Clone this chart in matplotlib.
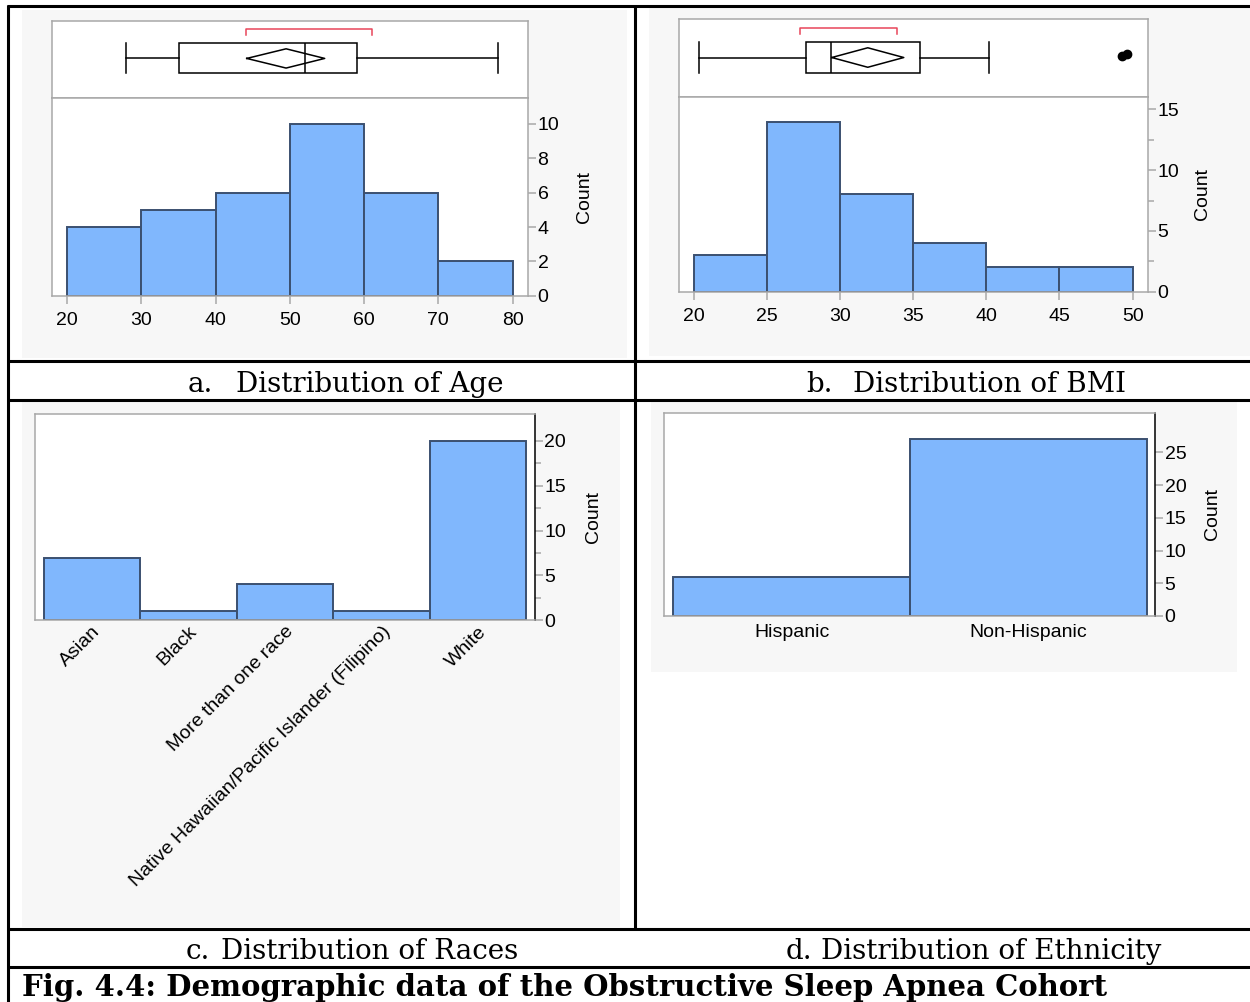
#!/usr/bin/env python3
"""
Demographic summary panels for the OSA cohort: age and BMI histograms with
outlier box plots, plus race and ethnicity counts, laid out as a 2x2 table.
"""

import matplotlib
matplotlib.use("Agg")
import matplotlib.pyplot as plt
import numpy as np

W, H = 1250, 1002

# ── Data ──
age_edges = [20, 30, 40, 50, 60, 70, 80]
age_counts = [4, 5, 6, 10, 6, 2]
age_box = dict(whislo=27.9, q1=35.1, med=52.0, q3=59.0, whishi=78.1)
age_mean = 49.5
age_ci = (44.2, 54.7)
age_shortest_half = (44.1, 61.1)

bmi_edges = [20, 25, 30, 35, 40, 45, 50]
bmi_counts = [3, 14, 8, 4, 2, 2]
bmi_box = dict(whislo=20.4, q1=27.7, med=29.4, q3=35.5, whishi=40.2)
bmi_outliers = [49.3, 49.6]
bmi_mean = 31.9
bmi_ci = (29.44, 34.36)
bmi_shortest_half = (27.3, 33.9)

races = ["Asian", "Black", "More than one race",
         "Native Hawaiian/Pacific Islander (Filipino)", "White"]
race_counts = [7, 1, 4, 1, 20]

ethnicities = ["Hispanic", "Non-Hispanic"]
ethnicity_counts = [6, 27]

# ── Styling ──
PANEL_BG = "#f7f7f7"
FRAME = "#a8a8a8"
BAR_FACE = "#80b7fd"
BAR_EDGE = "#3b5070"
RED = "#e8455a"
SANS = ["Liberation Sans", "DejaVu Sans"]
SERIF = ["DejaVu Serif"]
TICK_FS = 14

plt.rcParams["font.family"] = SANS


def px_rect(x0, y0, x1, y1):
    """Pixel box (top-left origin) -> figure fraction rect."""
    return [x0 / W, 1 - y1 / H, (x1 - x0) / W, (y1 - y0) / H]


def frame(ax, right_color=FRAME):
    for name, sp in ax.spines.items():
        sp.set_color(right_color if name == "right" else FRAME)
        sp.set_linewidth(1.1)


def count_axis(ax, ylim, major, minor=None, label_x=1.12, right_color=FRAME):
    frame(ax, right_color)
    ax.set_ylim(*ylim)
    ax.yaxis.tick_right()
    ax.set_yticks(major)
    if minor is not None:
        ax.set_yticks(minor, minor=True)
    ax.tick_params(axis="y", which="major", direction="out", color=FRAME,
                   length=6, width=1.1, labelsize=TICK_FS, pad=1)
    ax.tick_params(axis="y", which="minor", direction="out", color=FRAME,
                   length=4, width=1.1)
    ax.set_ylabel("Count", fontsize=TICK_FS)
    ax.yaxis.set_label_position("right")
    ax.yaxis.label.set_va("center")
    ax.yaxis.set_label_coords(label_x, 0.5)


def histogram_panel(fig, box_rect, hist_rect, edges, counts, xlim, ylim,
                    yticks, yminor, xticks, box, mean, ci, short_half,
                    label_x, outliers=None):
    # box plot strip on top
    axb = fig.add_axes(box_rect, zorder=2)
    frame(axb)
    axb.set_xlim(*xlim)
    axb.set_ylim(0, 1)
    axb.set_xticks([])
    axb.set_yticks([])
    c, w = 0.51, 0.39
    axb.bxp([box], positions=[c], widths=w, capwidths=w,
            orientation="horizontal", showfliers=False, manage_ticks=False,
            patch_artist=True,
            boxprops=dict(facecolor="white", edgecolor="black", linewidth=1.1),
            whiskerprops=dict(color="black", linewidth=1.1),
            capprops=dict(color="black", linewidth=1.1),
            medianprops=dict(color="black", linewidth=1.1))
    h = 0.125
    axb.plot([ci[0], mean, ci[1], mean, ci[0]], [c, c + h, c, c - h, c],
             color="black", linewidth=1.1)
    axb.plot([short_half[0], short_half[0], short_half[1], short_half[1]],
             [0.81, 0.89, 0.89, 0.81], color=RED, linewidth=1.1)
    if outliers is not None:
        axb.plot(outliers, [c + 0.02, c + 0.05], "o", color="black",
                 markersize=6)

    # histogram below
    ax = fig.add_axes(hist_rect, zorder=2)
    ax.bar(edges[:-1], counts, width=np.diff(edges), align="edge",
           color=BAR_FACE, edgecolor=BAR_EDGE, linewidth=1.4)
    ax.set_xlim(*xlim)
    ax.set_xticks(xticks)
    ax.tick_params(axis="x", direction="out", color=FRAME, length=6,
                   width=1.1, labelsize=TICK_FS, pad=6)
    count_axis(ax, ylim, yticks, yminor, label_x)
    return ax


def category_panel(fig, rect, cats, counts, xlim, ylim, yticks, yminor,
                   label_x, rotate=False):
    ax = fig.add_axes(rect, zorder=2)
    ax.bar(np.arange(len(cats)), counts, width=1.0, color=BAR_FACE,
           edgecolor=BAR_EDGE, linewidth=1.4)
    ax.set_xlim(*xlim)
    ax.set_xticks(np.arange(len(cats)))
    if rotate:
        ax.set_xticklabels(cats, rotation=45, ha="right",
                           rotation_mode="anchor")
        ax.tick_params(axis="x", length=0, labelsize=TICK_FS, pad=2)
    else:
        ax.set_xticklabels(cats)
        ax.tick_params(axis="x", length=0, labelsize=TICK_FS, pad=6)
    count_axis(ax, ylim, yticks, yminor, label_x, right_color="black")
    return ax


fig = plt.figure(figsize=(W / 100, H / 100), dpi=100)

# ── Page layer: panel backgrounds, table rules, captions ──
bg = fig.add_axes([0, 0, 1, 1], zorder=0)
bg.set_xlim(0, W)
bg.set_ylim(H, 0)
bg.axis("off")

for x0, y0, x1, y1 in [(22, 10, 627, 358), (649, 6, 1250, 356),
                       (22, 400, 620, 927), (651, 400, 1237, 672)]:
    bg.add_patch(plt.Rectangle((x0, y0), x1 - x0, y1 - y0,
                               facecolor=PANEL_BG, edgecolor="none"))

rule = dict(color="black", linewidth=2.2, solid_capstyle="butt")
for y in [5.5, 361, 399.5, 929, 967]:
    bg.plot([7, W], [y, y], **rule)
bg.plot([7.5, 7.5], [4.5, H], **rule)
bg.plot([634.5, 634.5], [5.5, 929], **rule)

cap = dict(fontsize=20, family=SERIF, va="baseline")
bg.text(188, 392, "a.", **cap)
bg.text(236, 392, "Distribution of Age", **cap)
bg.text(806, 392, "b.", **cap)
bg.text(853, 392, "Distribution of BMI", **cap)
bg.text(186, 959, "c.", **cap)
bg.text(221, 959, "Distribution of Races", **cap)
bg.text(786, 959, "d.", **cap)
bg.text(821, 959, "Distribution of Ethnicity", **cap)
bg.text(22, 996, "Fig. 4.4: Demographic data of the Obstructive Sleep Apnea Cohort",
        fontsize=21, family=SERIF, fontweight="bold", va="baseline")

# ── a. Age ──
histogram_panel(fig, px_rect(51.8, 20.7, 527.8, 97.7),
                px_rect(51.8, 97.7, 527.8, 295.7),
                age_edges, age_counts, (17.94, 82.06), (0, 11.53),
                [0, 2, 4, 6, 8, 10], None, [20, 30, 40, 50, 60, 70, 80],
                age_box, age_mean, age_ci, age_shortest_half,
                label_x=(585 - 51.8) / 476)

# ── b. BMI ──
histogram_panel(fig, px_rect(679, 19.3, 1148, 97.3),
                px_rect(679, 97.3, 1148, 291.7),
                bmi_edges, bmi_counts, (19.0, 51.05), (0, 16.0),
                [0, 5, 10, 15], [2.5, 7.5, 12.5], [20, 25, 30, 35, 40, 45, 50],
                bmi_box, bmi_mean, bmi_ci, bmi_shortest_half,
                label_x=(1203 - 679) / 469, outliers=bmi_outliers)

# ── c. Races ──
category_panel(fig, px_rect(35.3, 414, 534.7, 620.3), races, race_counts,
               (-0.587, 4.587), (0, 23), [0, 5, 10, 15, 20],
               [2.5, 7.5, 12.5, 17.5], label_x=(593 - 35.3) / 499.4,
               rotate=True)

# ── d. Ethnicity ──
category_panel(fig, px_rect(664, 413, 1155, 616), ethnicities,
               ethnicity_counts, (-0.54, 1.535), (0, 31), [0, 5, 10, 15, 20, 25],
               None, label_x=(1212 - 664) / 491)

fig.savefig("out.png", dpi=100)
